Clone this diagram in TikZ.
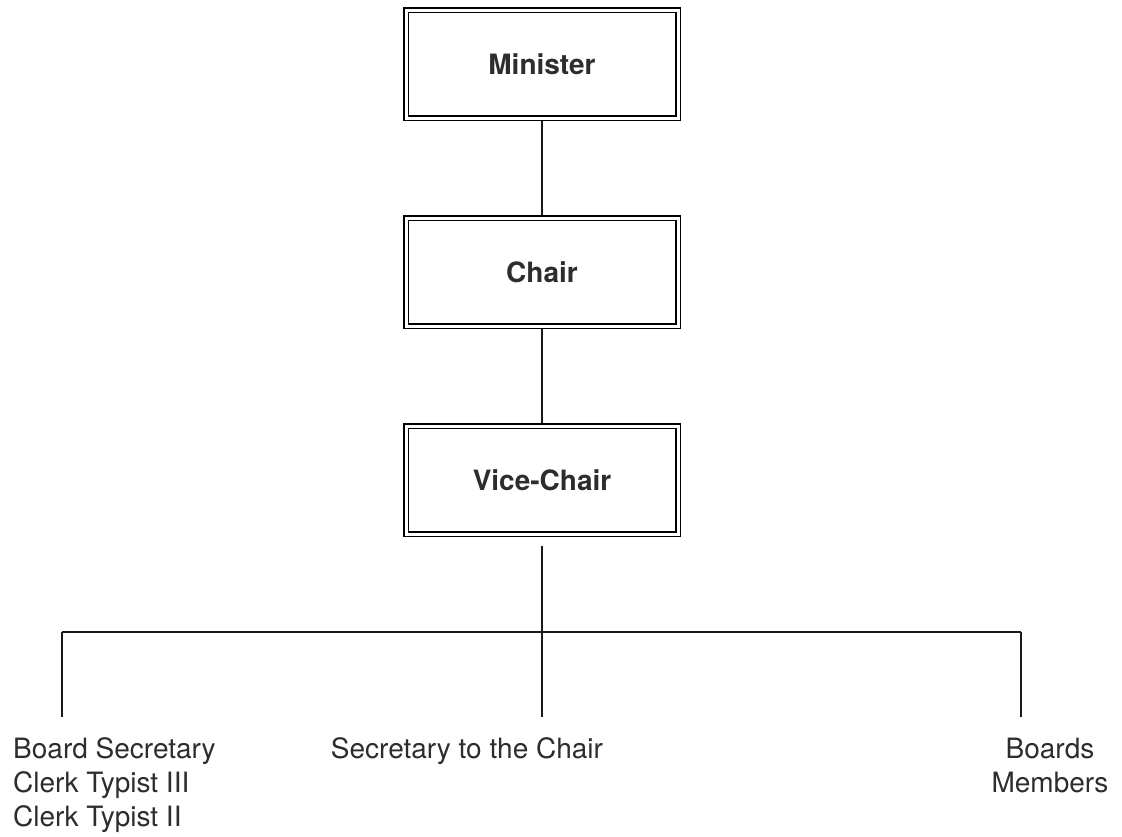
\documentclass[tikz,border=0pt]{standalone}
\usepackage{fontspec}
\setmainfont{TeX Gyre Heros}
\definecolor{inkgray}{RGB}{45,45,45}
\begin{document}
\begin{tikzpicture}[x=1pt,y=-1pt,
  rolebox/.style={draw=black, double=white, double distance=3pt, line width=1.5pt,
    minimum width=272pt, minimum height=108pt, inner sep=0pt, outer sep=3pt,
    font=\fontsize{28}{34}\selectfont\bfseries, text=inkgray},
  conn/.style={draw=black!90, line width=1.6pt},
  plain/.style={font=\fontsize{28}{34}\selectfont, text=inkgray, inner sep=0pt}]
\useasboundingbox (0,0) rectangle (1122,836);
\node[rolebox] (min) at (542,64) {Minister};
\node[rolebox] (chair) at (542,272) {Chair};
\node[rolebox] (vice) at (542,480) {Vice-Chair};
\coordinate (busl) at (62,632);
\coordinate (busr) at (1021,632);
\coordinate (endl) at (62,717);
\coordinate (endm) at (542,717);
\coordinate (endr) at (1021,717);
\draw[conn] (min.south) -- (chair.north);
\draw[conn] (chair.south) -- (vice.north);
\draw[conn, shorten <=9pt] (vice.south) -- (endm);
\draw[conn] (busl) -- (busr);
\draw[conn] (busl) -- (endl);
\draw[conn] (busr) -- (endr);
\node[plain, anchor=north west, align=left] (left) at (13,737.5)
  {Board Secretary\\Clerk Typist III\\Clerk Typist II};
\node[plain, anchor=base] (mid) at (467,758) {Secretary to the Chair};
\node[plain, anchor=north, align=center] (right) at (1050,737.5) {Boards\\Members};
\end{tikzpicture}
\end{document}
